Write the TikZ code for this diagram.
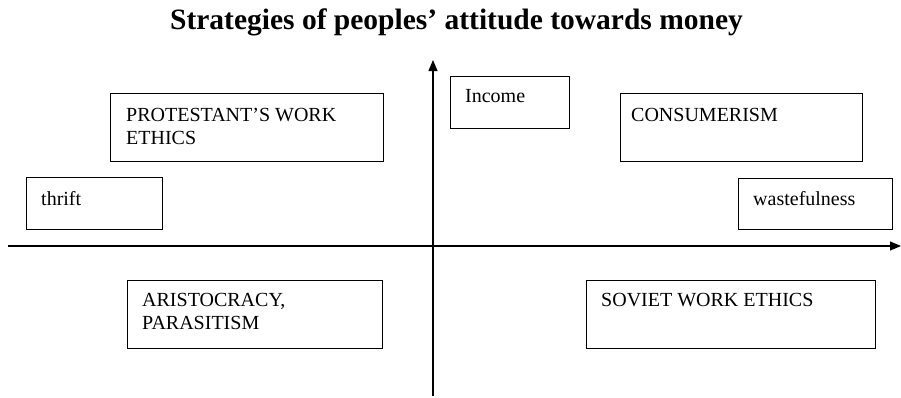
\documentclass[tikz,border=0pt]{standalone}
\usepackage{fontspec}
\setmainfont{Liberation Serif}
\usetikzlibrary{arrows.meta,calc}
\begin{document}
\begin{tikzpicture}[x=1pt,y=-1pt,
  box/.style={draw, line width=1.2pt, anchor=north west, inner sep=0pt},
  lbl/.style={anchor=base west, inner sep=0pt, align=left, font=\rmfamily\fontsize{20}{23.5}\selectfont},
  axis/.style={line width=1.1pt, -{Triangle[length=11pt,width=9pt]}}]
\useasboundingbox (0,0) rectangle (901,397);
\node[anchor=base, inner sep=0pt, font=\rmfamily\bfseries\fontsize{29.5}{32}\selectfont] (title) at (456.5,29) {Strategies of peoples’ attitude towards money};
\coordinate (vb) at (433,396);
\coordinate (vt) at (433,60);
\coordinate (hl) at (8,246);
\coordinate (hr) at (901,246);
\draw[axis] (vb) -- (vt);
\draw[axis] (hl) -- (hr);
\node[box, minimum width=119pt, minimum height=52pt] (inc) at (450,76) {};
\node[lbl] (inct) at ($(inc.north west)+(15,26)$) {Income};
\node[box, minimum width=273pt, minimum height=68pt] (prot) at (110,93) {};
\node[lbl] (prott) at ($(prot.north west)+(16,51.5)$) {PROTESTANT’S WORK\\ETHICS};
\node[box, minimum width=242pt, minimum height=68pt] (cons) at (620,93) {};
\node[lbl] (const) at ($(cons.north west)+(11,28)$) {CONSUMERISM};
\node[box, minimum width=136pt, minimum height=52pt] (thr) at (26,177) {};
\node[lbl] (thrt) at ($(thr.north west)+(15,28)$) {thrift};
\node[box, minimum width=154pt, minimum height=51pt] (wst) at (738,178) {};
\node[lbl] (wstt) at ($(wst.north west)+(15,27)$) {wastefulness};
\node[box, minimum width=255pt, minimum height=68pt] (ari) at (127,280) {};
\node[lbl] (arit) at ($(ari.north west)+(15,49.5)$) {ARISTOCRACY,\\PARASITISM};
\node[box, minimum width=289pt, minimum height=68pt] (sov) at (586,280) {};
\node[lbl] (sovt) at ($(sov.north west)+(15,26)$) {SOVIET WORK ETHICS};
\end{tikzpicture}
\end{document}
